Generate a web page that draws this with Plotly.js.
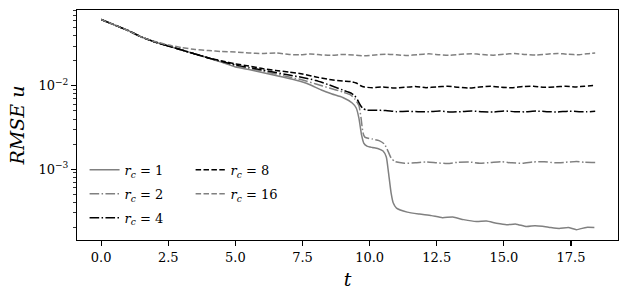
<!DOCTYPE html>
<html>
<head>
<meta charset="utf-8">
<script src="https://cdn.plot.ly/plotly-3.0.1.min.js"></script>
<style>html,body{margin:0;padding:0;background:#fff;}#chart{width:629px;height:298px;}</style>
</head>
<body>
<div id="chart"></div>
<script>
// ---- data ----
const t_rc1 = [0,0.5,1,1.5,2,2.5,3,3.5,4,4.5,5,5.5,6,6.5,7,7.5,7.8,8.2,8.6,9.0,9.35,9.5,9.6,9.7,9.78,9.9,10.1,10.3,10.5,10.62,10.7,10.8,10.88,11.0,11.4,11.86,12.3,12.71,13.1,13.5,13.98,14.35,14.72,15.1,15.45,15.84,16.15,16.43,16.75,17.06,17.4,17.7,18.07,18.37];
const rmse_rc1 = [0.0625,0.0537,0.0461,0.0385,0.0336,0.0301,0.0269,0.0241,0.0216,0.0191,0.01683,0.0157,0.01445,0.0133,0.01225,0.01111,0.01023,0.00891,0.00798,0.00724,0.00622,0.00542,0.0041,0.00256,0.00206,0.00189,0.00182,0.00177,0.00165,0.0014,0.000923,0.000516,0.000392,0.000341,0.000305,0.000289,0.000277,0.000262,0.000266,0.000248,0.000235,0.000238,0.000225,0.000216,0.000219,0.000205,0.00021,0.000207,0.000199,0.000194,0.000199,0.000188,0.0002,0.000199];

const t_rc2 = [0,0.5,1,1.5,2,2.5,3,3.5,4,4.5,5,5.5,6,6.5,7,7.5,8,8.5,9,9.3,9.45,9.6,9.68,9.75,9.82,10.1,10.35,10.55,10.7,10.8,10.95,11.3,11.7,12.1,12.5,12.9,13.3,13.7,14.1,14.5,14.9,15.3,15.7,16.1,16.5,16.9,17.3,17.7,18.0,18.4];
const rmse_rc2 = [0.0625,0.0537,0.0461,0.0385,0.0336,0.0301,0.0269,0.0241,0.0216,0.0193,0.0173,0.0161,0.01507,0.01387,0.01276,0.01175,0.01052,0.00941,0.00843,0.00776,0.00695,0.0058,0.0041,0.00275,0.00242,0.0023,0.0022,0.002,0.0016,0.00136,0.00123,0.00118,0.00119,0.00122,0.00119,0.00117,0.00121,0.00122,0.00118,0.0012,0.00123,0.00119,0.00118,0.00122,0.00123,0.00119,0.00121,0.00124,0.00121,0.0012];

const t_rc4 = [0,0.5,1,1.5,2,2.5,3,3.5,4,4.5,5,5.5,6,6.5,7,7.5,8,8.5,9,9.3,9.45,9.55,9.65,9.75,9.9,10.2,10.6,11.0,11.4,11.8,12.2,12.6,13.0,13.4,13.8,14.2,14.6,15.0,15.4,15.8,16.2,16.6,17.0,17.4,17.8,18.1,18.4];
const rmse_rc4 = [0.0625,0.0537,0.0461,0.0385,0.0336,0.0301,0.0269,0.0241,0.0216,0.0196,0.0178,0.0166,0.0155,0.01445,0.01349,0.01259,0.01159,0.01023,0.00891,0.0082,0.00755,0.00676,0.00589,0.00533,0.00511,0.0051,0.00505,0.0049,0.00495,0.0049,0.00488,0.005,0.00485,0.0049,0.005,0.00488,0.00485,0.005,0.0049,0.00487,0.00498,0.0049,0.00485,0.00497,0.0049,0.00487,0.00495];

const t_rc8 = [0,0.5,1,1.5,2,2.5,3,3.5,4,4.5,5,5.5,6,6.5,7,7.5,8,8.5,9,9.3,9.5,9.65,9.8,10.1,10.5,10.9,11.3,11.7,12.1,12.5,12.9,13.3,13.7,14.1,14.5,14.9,15.3,15.7,16.1,16.5,16.9,17.3,17.7,18.0,18.4];
const rmse_rc8 = [0.0625,0.0537,0.0461,0.0385,0.0336,0.0301,0.0269,0.0241,0.0216,0.0199,0.0183,0.0173,0.0161,0.0153,0.01466,0.01387,0.01276,0.01191,0.01143,0.01127,0.01081,0.01009,0.00968,0.0095,0.0097,0.0094,0.0096,0.0098,0.0095,0.0097,0.0099,0.0096,0.0094,0.0097,0.0099,0.0096,0.0095,0.0098,0.0099,0.0096,0.0097,0.0099,0.0097,0.0099,0.0101];

const t_rc16 = [0,0.5,1,1.5,2,2.5,3,3.5,4,4.5,5,5.5,6,6.5,7,7.4,7.8,8.2,8.6,9.0,9.4,9.8,10.2,10.6,11.0,11.4,11.8,12.2,12.6,13.0,13.4,13.8,14.2,14.6,15.0,15.4,15.8,16.2,16.6,17.0,17.4,17.8,18.1,18.4];
const rmse_rc16 = [0.0625,0.0537,0.0461,0.0385,0.034,0.0309,0.0288,0.0273,0.0265,0.0258,0.0255,0.0248,0.0244,0.0248,0.0238,0.0236,0.0241,0.0235,0.0232,0.0238,0.0234,0.0229,0.0235,0.024,0.0236,0.0231,0.0237,0.0242,0.0236,0.0233,0.0239,0.0243,0.0237,0.0233,0.0239,0.0244,0.0238,0.0234,0.024,0.0245,0.0239,0.0236,0.0243,0.0247];

const seriesNames = ['<i>r</i><sub><i>c</i></sub> = 1','<i>r</i><sub><i>c</i></sub> = 2','<i>r</i><sub><i>c</i></sub> = 4','<i>r</i><sub><i>c</i></sub> = 8','<i>r</i><sub><i>c</i></sub> = 16'];
const xTickVals = [0,2.5,5,7.5,10,12.5,15,17.5];
const yTickVals = [0.001,0.01];
const yTickText = ['10<sup>−3</sup>','10<sup>−2</sup>'];
const yMinorVals = [2e-4,3e-4,4e-4,5e-4,6e-4,7e-4,8e-4,9e-4,2e-3,3e-3,4e-3,5e-3,6e-3,7e-3,8e-3,9e-3,2e-2,3e-2,4e-2,5e-2,6e-2,7e-2,8e-2];

// ---- styles ----
const GRAY = '#808080', BLACK = '#000000';
const DASH = '5.5px,2.4px';
const DASHDOT = '9.6px,2.4px,1.5px,2.4px';
const FONT = 'DejaVu Serif';

const xs = [t_rc1,t_rc2,t_rc4,t_rc8,t_rc16];
const ys = [rmse_rc1,rmse_rc2,rmse_rc4,rmse_rc8,rmse_rc16];
const colors = [GRAY,GRAY,BLACK,BLACK,GRAY];
const dashes = ['solid',DASHDOT,DASHDOT,DASH,DASH];
const legends = ['legend','legend','legend','legend2','legend2'];

const traces = xs.map((x,i)=>({
  x: x, y: ys[i], type:'scatter', mode:'lines', name: seriesNames[i],
  line:{color:colors[i], width:1.5, dash:dashes[i], shape:'spline', smoothing:0.5},
  legend: legends[i], legendgroup: 'g'+i
}));

const legendCommon = {
  font:{family:FONT, size:13, color:'#000'},
  bgcolor:'rgba(0,0,0,0)', borderwidth:0,
  xanchor:'left', yanchor:'top', tracegroupgap:4,
  orientation:'v'
};

const layout = {
  width:629, height:298,
  margin:{l:77, r:11, t:10, b:58},
  paper_bgcolor:'#fff', plot_bgcolor:'#fff',
  font:{family:FONT, size:13, color:'#000'},
  showlegend:true,
  legend: Object.assign({}, legendCommon, {x:0.014, y:0.37}),
  legend2: Object.assign({}, legendCommon, {x:0.21, y:0.37}),
  xaxis:{
    range:[-0.9,19.25], tickmode:'array', tickvals:xTickVals, tickformat:'.1f',
    ticks:'outside', ticklen:4.9, tickwidth:1.1, tickcolor:'#000',
    showline:true, linecolor:'#000', linewidth:1.1, mirror:true,
    showgrid:false, zeroline:false,
    tickfont:{family:FONT, size:13, color:'#000'},
    title:{text:'<i>t</i>', font:{family:FONT, size:19, color:'#000'}, standoff:9}
  },
  yaxis:{
    type:'log', range:[-3.85,-1.09], tickmode:'array', tickvals:yTickVals, ticktext:yTickText,
    ticks:'outside', ticklen:4.9, tickwidth:1.1, tickcolor:'#000',
    minor:{tickmode:'array', tickvals:yMinorVals, ticks:'outside', ticklen:2.8, tickwidth:0.8, tickcolor:'#000', showgrid:false},
    showline:true, linecolor:'#000', linewidth:1.1, mirror:true,
    showgrid:false, zeroline:false,
    tickfont:{family:FONT, size:13, color:'#000'},
    title:{text:'<i>RMSE u</i>', font:{family:FONT, size:19, color:'#000'}, standoff:8}
  }
};

Plotly.newPlot('chart', traces, layout, {displayModeBar:false, staticPlot:true});
</script>
</body>
</html>
